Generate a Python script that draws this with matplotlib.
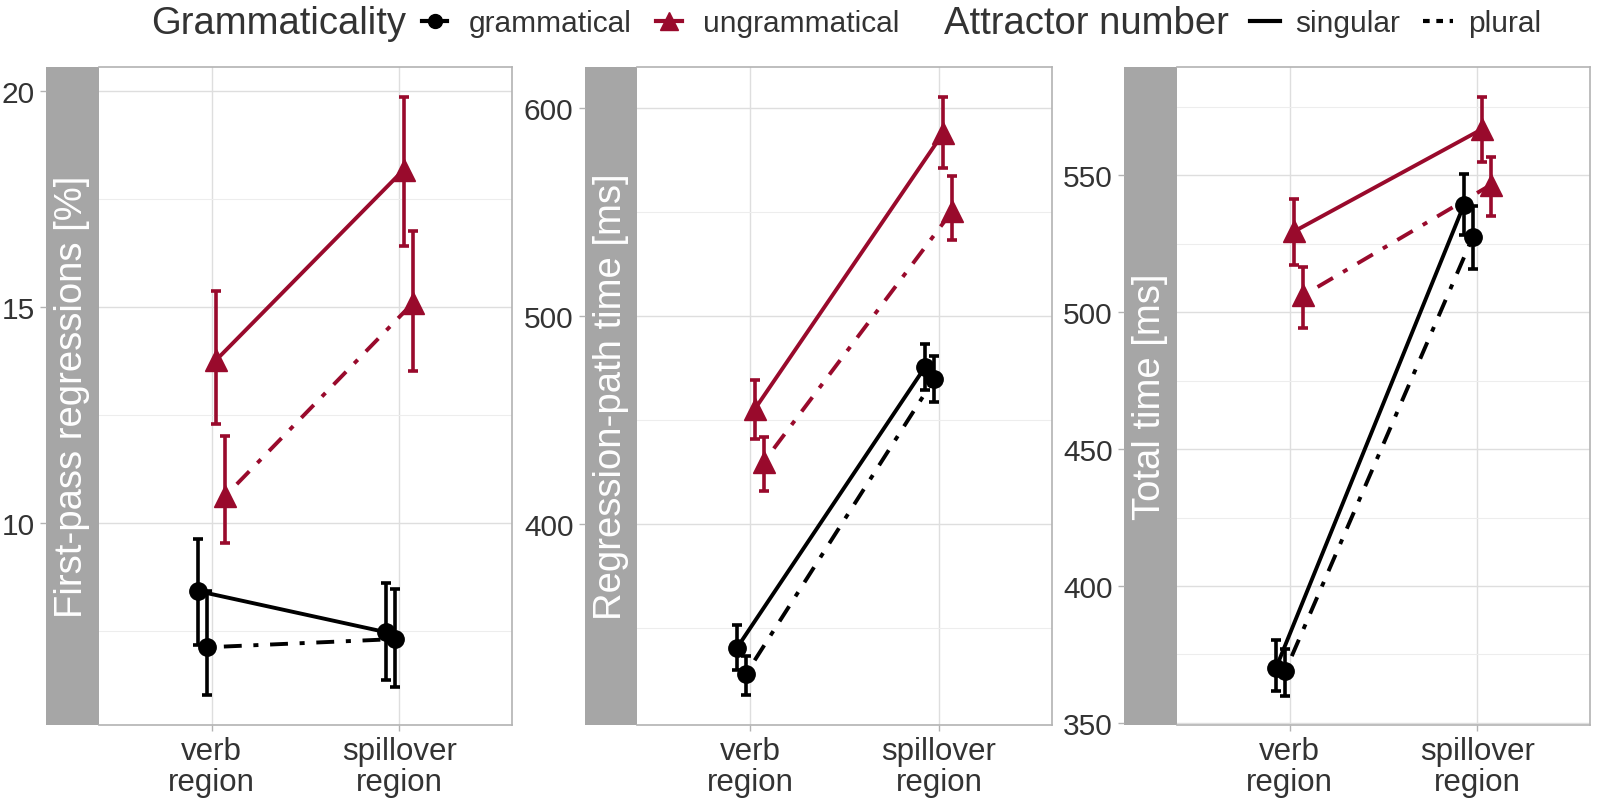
import matplotlib.pyplot as plt
from matplotlib.lines import Line2D
import numpy as np

plt.rcParams['font.family'] = ['Liberation Sans', 'DejaVu Sans']

# data
regions = ["verb\nregion", "spillover\nregion"]
measures = ["First-pass regressions [%]", "Regression-path time [ms]", "Total time [ms]"]
conditions = ["gram_sg", "gram_pl", "ungram_sg", "ungram_pl"]

# rows: grammatical/singular, grammatical/plural, ungrammatical/singular, ungrammatical/plural
# cols: verb region, spillover region
fpr_mean = [[8.43, 7.48], [7.13, 7.32], [13.78, 18.19], [10.63, 15.10]]
fpr_lower = [[7.18, 6.37], [6.02, 6.21], [12.29, 16.42], [9.54, 13.53]]
fpr_upper = [[9.63, 8.63], [8.43, 8.49], [15.38, 19.88], [12.02, 16.76]]

rpt_mean = [[340.4, 475.7], [327.9, 469.9], [455.3, 588.1], [430.0, 550.6]]
rpt_lower = [[330.0, 464.3], [318.1, 459.0], [440.9, 571.0], [416.0, 536.5]]
rpt_upper = [[351.8, 486.6], [336.9, 480.7], [469.5, 605.2], [442.2, 567.3]]

tt_mean = [[370.2, 539.1], [368.8, 527.5], [529.5, 566.8], [506.1, 546.5]]
tt_lower = [[361.5, 528.3], [359.9, 515.6], [517.2, 554.9], [494.2, 535.1]]
tt_upper = [[380.2, 550.3], [377.0, 538.6], [541.5, 578.7], [516.6, 556.6]]

panels = [(fpr_mean, fpr_lower, fpr_upper),
          (rpt_mean, rpt_lower, rpt_upper),
          (tt_mean, tt_lower, tt_upper)]

ylims = [(5.34, 20.57), (303.8, 619.8), (349.4, 589.6)]
major = [[10, 15, 20], [400, 500, 600], [350, 400, 450, 500, 550]]
minor = [[7.5, 12.5, 17.5], [350, 450, 550], [375, 425, 475, 525, 575]]

red = '#990A2C'
cond_color = ['black', 'black', red, red]
cond_marker = ['o', 'o', '^', '^']
cond_ms = [12.5, 12.5, 16.5, 16.5]
dotdash = (0, (1.3, 3, 4.6, 3))
cond_ls = ['-', dotdash, '-', dotdash]
offsets = [-0.072, -0.024, 0.024, 0.072]

textcol = '#333333'
gridcol = '#DEDEDE'
minorcol = '#EDEDED'
bordercol = '#B3B3B3'

W, H = 1600, 803
fig = plt.figure(figsize=(W / 100, H / 100), dpi=100)

# strip left, strip right, panel right (pixels)
layout = [(46, 99, 512), (585, 637, 1052), (1124, 1177, 1590)]
top, bottom = 67.8, 725.6

for i, (sl, sr, pr) in enumerate(layout):
    mean, lower, upper = panels[i]
    y0 = 1 - bottom / H
    h = (bottom - top) / H
    axs = fig.add_axes([sl / W, y0, (sr - sl) / W, h])
    ax = fig.add_axes([sr / W, y0, (pr - sr) / W, h], sharey=axs)

    # strip holding the y label
    axs.set_facecolor('#A6A6A6')
    for s in axs.spines.values():
        s.set_visible(False)
    axs.set_xticks([])
    axs.set_ylim(ylims[i])
    axs.set_yticks(major[i])
    axs.tick_params(axis='y', which='major', length=4.2, width=1, color=bordercol, pad=4,
                    labelsize=21.5, labelcolor=textcol)
    axs.tick_params(axis='y', which='minor', left=False)
    axs.text(0.5, 0.5, measures[i], transform=axs.transAxes, rotation=90,
             ha='center', va='center', color='white', fontsize=27.5)

    ax.set_facecolor('white')
    ax.set_xlim(0.4, 2.6)
    ax.set_yticks(minor[i], minor=True)
    ax.grid(True, which='major', color=gridcol, lw=1.0, zorder=0)
    ax.grid(True, which='minor', axis='y', color=minorcol, lw=0.8, zorder=0)
    ax.set_axisbelow(True)
    ax.tick_params(axis='y', which='both', left=False, labelleft=False)
    ax.set_xticks([1, 2])
    ax.set_xticklabels(regions, linespacing=1.05)
    ax.tick_params(axis='x', length=4.2, width=1, color=bordercol, pad=4,
                   labelsize=22.5, labelcolor=textcol)
    for s in ax.spines.values():
        s.set_color(bordercol)
        s.set_linewidth(1.2)
    ax.spines['left'].set_visible(False)

    xbase = np.array([1, 2])
    for c in range(4):
        xs = xbase + offsets[c]
        m = np.array(mean[c])
        lo = np.array(lower[c])
        hi = np.array(upper[c])
        ax.errorbar(xs, m, yerr=[m - lo, hi - m], fmt='none', ecolor=cond_color[c],
                    elinewidth=2.6, capsize=3.6, capthick=2.6, zorder=3)
        ax.plot(xs, m, color=cond_color[c], lw=2.8, linestyle=cond_ls[c], zorder=4)
        ax.plot(xs, m, linestyle='none', marker=cond_marker[c], ms=cond_ms[c],
                color=cond_color[c], zorder=5)

# legends across the top
fig.text(151 / W, 1 - 24 / H, "Grammaticality", fontsize=27.5, color=textcol,
         ha='left', va='center')
h1 = [Line2D([], [], color='black', lw=3, marker='o', ms=10),
      Line2D([], [], color=red, lw=3, marker='^', ms=13)]
fig.legend(h1, ["grammatical", "ungrammatical"], ncol=2, frameon=False,
           loc='center left', bbox_to_anchor=(407 / W, 1 - 24 / H), borderpad=0,
           fontsize=21.5, labelcolor=textcol, handlelength=0.85, handletextpad=0.72,
           columnspacing=0.82)

fig.text(944 / W, 1 - 24 / H, "Attractor number", fontsize=27.5, color=textcol,
         ha='left', va='center')
h2 = [Line2D([], [], color='black', lw=3, linestyle='-'),
      Line2D([], [], color='black', lw=3, linestyle=(0, (1.6, 1.6)))]
fig.legend(h2, ["singular", "plural"], ncol=2, frameon=False,
           loc='center left', bbox_to_anchor=(1235 / W, 1 - 24 / H), borderpad=0,
           fontsize=21.5, labelcolor=textcol, handlelength=1.0, handletextpad=0.5,
           columnspacing=0.8)

fig.savefig('out.png', dpi=100, facecolor='white')
